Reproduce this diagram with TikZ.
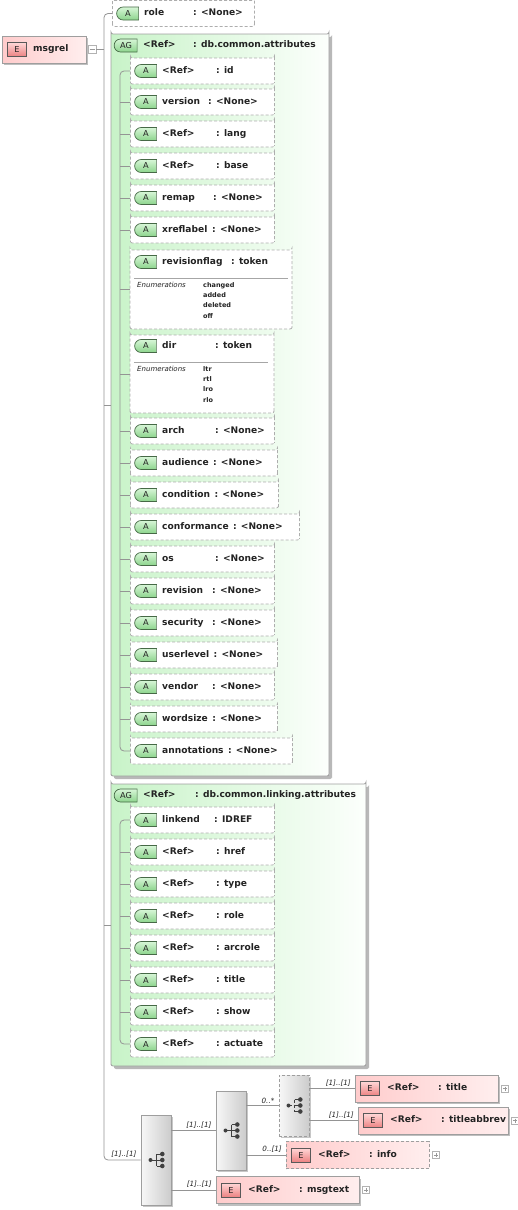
\documentclass[tikz,border=0pt]{standalone}
\usepackage{fontspec}
\setmainfont{DejaVu Sans}
\usetikzlibrary{calc,shapes.misc,shadows}

\definecolor{aggreen}{RGB}{200,243,200}
\definecolor{agwhite}{RGB}{252,255,252}
\definecolor{elpink}{RGB}{255,204,204}
\definecolor{elwhite}{RGB}{255,238,238}
\definecolor{bdgreen}{RGB}{140,212,140}
\definecolor{bdlight}{RGB}{215,246,215}
\definecolor{bdedge}{RGB}{70,105,70}
\definecolor{bdred}{RGB}{236,130,130}
\definecolor{bdrose}{RGB}{255,215,215}
\definecolor{txt}{RGB}{35,35,35}

\tikzset{
  conn/.style={draw=black!42, line width=0.8pt},
  sepline/.style={draw=black!35, line width=0.6pt},
  attrtext/.style={anchor=west, inner sep=0pt, text height=6.8pt, text depth=1.9pt, text=txt, font=\bfseries\fontsize{9.1}{10}\selectfont},
  attrbox/.style={chamfered rectangle, chamfered rectangle corners={north west,south west}, chamfered rectangle xsep=7pt, chamfered rectangle ysep=7pt, rounded corners=2pt, draw=black!32, dash pattern=on 3pt off 2pt, line width=0.8pt, fill=white, minimum height=26pt, inner sep=0pt, anchor=west},
  agbox/.style={chamfered rectangle, chamfered rectangle corners={north west,south west}, chamfered rectangle xsep=10pt, chamfered rectangle ysep=10pt, rounded corners=2pt, draw=black!38, line width=0.8pt, left color=aggreen, right color=agwhite, inner sep=0pt, drop shadow={shadow xshift=3pt, shadow yshift=-3pt, fill=black!28, opacity=1}},
  abadge/.style={rounded rectangle, rounded rectangle right arc=none, draw=bdedge, line width=0.7pt, top color=bdlight, bottom color=bdgreen, minimum width=22pt, minimum height=13pt, inner sep=0pt, text=txt, font=\fontsize{8.2}{9}\selectfont},
  ebadge/.style={rectangle, draw=black!65, line width=0.7pt, top color=bdrose, bottom color=bdred, minimum width=19pt, minimum height=14pt, inner sep=0pt, text=txt, font=\fontsize{8.2}{9}\selectfont},
  elembox/.style={rectangle, draw=black!38, line width=0.8pt, left color=elpink, right color=elwhite, minimum height=27pt, inner sep=0pt, anchor=west, drop shadow={shadow xshift=2pt, shadow yshift=-2pt, fill=black!25, opacity=1}},
  elemdash/.style={rectangle, draw=black!38, line width=0.8pt, dash pattern=on 3pt off 2pt, left color=elpink, right color=elwhite, minimum height=27pt, inner sep=0pt, anchor=west},
  plusbox/.style={rectangle, draw=black!30, fill=white, minimum size=7pt, inner sep=0pt, path picture={\draw[black!40, line width=0.5pt] ([xshift=1.5pt]path picture bounding box.west) -- ([xshift=-1.5pt]path picture bounding box.east) ([yshift=-1.5pt]path picture bounding box.north) -- ([yshift=1.5pt]path picture bounding box.south);}},
  minusbox/.style={rectangle, draw=black!30, fill=white, minimum size=8pt, inner sep=0pt, path picture={\draw[black!40, line width=0.5pt] ([xshift=1.5pt]path picture bounding box.west) -- ([xshift=-1.5pt]path picture bounding box.east);}},
  seqbox/.style={rectangle, draw=black!38, line width=0.8pt, left color=black!3, right color=black!20, minimum width=30pt, inner sep=0pt, drop shadow={shadow xshift=2pt, shadow yshift=-2pt, fill=black!22, opacity=1},
    path picture={
      \begin{scope}[shift={(path picture bounding box.center)}, black!75]
        \draw[line width=0.8pt] (-5.5,0) -- (0.5,0) (0.5,-6) -- (0.5,6) (0.5,-6) -- (6.3,-6) (0.5,0) -- (6.3,0) (0.5,6) -- (6.3,6);
        \fill (-5.5,0) circle (2) (6.3,-6) circle (2.3) (6.3,0) circle (2.3) (6.3,6) circle (2.3);
      \end{scope}}},
  choicedash/.style={dash pattern=on 3pt off 2pt, drop shadow={opacity=0}},
  enumhead/.style={anchor=west, inner sep=0pt, text=txt, font=\itshape\fontsize{7}{8}\selectfont},
  enumlist/.style={anchor=north west, align=left, inner sep=0pt, text=txt, font=\bfseries\fontsize{6.5}{10.4}\selectfont},
  mult/.style={anchor=south east, inner sep=0pt, text=txt, font=\itshape\fontsize{7.2}{8}\selectfont}
}

\newcommand{\attrrow}[7]{%
  \node[attrbox, minimum width={(#4-#2)*1pt}] (#1) at (#2,#3) {};
  \node[abadge] (#1-a) at ([xshift=16pt]#1.west) {A};
  \node[attrtext] (#1-n) at ([xshift=32pt]#1.west) {#5};
  \path let \p1=(#1-n.east) in node[attrtext] (#1-v) at ([xshift={max(#6pt-\x1,4pt)}]#1-n.east) {: #7};
}

\newcommand{\elemrow}[6]{%
  \node[#5, minimum width={(#4-#2)*1pt}] (#1) at (#2,#3) {};
  \node[ebadge] (#1-b) at ([xshift=15pt]#1.west) {E};
  \node[attrtext] (#1-n) at ([xshift=32pt]#1.west) {<Ref>};
  \node[attrtext] (#1-v) at ([xshift=83pt]#1.west) {: #6};
  \node[plusbox] (#1-p) at ([xshift=6pt]#1.east) {};
}

\begin{document}
\begin{tikzpicture}[x=1pt, y=-1pt]
	\useasboundingbox (0,0) rectangle (518,1210);
	\coordinate (trunk) at (104,0);
	\coordinate (agt) at (120,0);

	\node[elembox, minimum width=84pt] (msgrel) at (2,49.5) {};
	\node[ebadge] (msgrel-b) at ([xshift=15pt]msgrel.west) {E};
	\node[attrtext] (msgrel-n) at ([xshift=31pt]msgrel.west) {msgrel};
	\node[minusbox] (msgrel-c) at (92,49.5) {};

	\attrrow{role}{112}{13.5}{254}{role}{193}{<None>}

	\node[agbox, minimum width=218pt, minimum height=742pt] (ag1) at (220,405) {};
	\node[abadge, minimum width=23pt] (ag1-a) at (126,45.5) {AG};
	\node[attrtext] (ag1-n) at (143,45.5) {<Ref>};
	\node[attrtext] (ag1-v) at (193,45.5) {: db.common.attributes};

	\attrrow{id}{130}{71}{274}{<Ref>}{216}{id}
	\attrrow{version}{130}{102}{274}{version}{208}{<None>}
	\attrrow{lang}{130}{134}{274}{<Ref>}{216}{lang}
	\attrrow{base}{130}{166}{274}{<Ref>}{216}{base}
	\attrrow{remap}{130}{198}{274}{remap}{213}{<None>}
	\attrrow{xreflabel}{130}{230}{274}{xreflabel}{212}{<None>}

	\node[attrbox, anchor=center, minimum width=162pt, minimum height=79pt] (revisionflag) at (211,289.5) {};
	\node[abadge] (revisionflag-a) at (146,262) {A};
	\node[attrtext] (revisionflag-n) at (162,262) {revisionflag};
	\node[attrtext] (revisionflag-v) at (231,262) {: token};
	\draw[sepline] (134,278) -- (288,278);
	\node[enumhead] (revisionflag-e) at (137,285) {Enumerations};
	\node[enumlist] (revisionflag-l) at (203,282) {changed\\added\\deleted\\off};

	\node[attrbox, anchor=center, minimum width=144pt, minimum height=78pt] (dir) at (202,374) {};
	\node[abadge] (dir-a) at (146,346) {A};
	\node[attrtext] (dir-n) at (162,346) {dir};
	\node[attrtext] (dir-v) at (215,346) {: token};
	\draw[sepline] (134,362) -- (268,362);
	\node[enumhead] (dir-e) at (137,369) {Enumerations};
	\node[enumlist] (dir-l) at (203,366) {ltr\\rtl\\lro\\rlo};

	\attrrow{arch}{130}{431}{274}{arch}{215}{<None>}
	\attrrow{audience}{130}{463}{277}{audience}{210}{<None>}
	\attrrow{condition}{130}{495}{278}{condition}{211}{<None>}
	\attrrow{conformance}{130}{527}{299}{conformance}{232}{<None>}
	\attrrow{os}{130}{559}{274}{os}{215}{<None>}
	\attrrow{revision}{130}{591}{274}{revision}{212}{<None>}
	\attrrow{security}{130}{623}{274}{security}{212}{<None>}
	\attrrow{userlevel}{130}{655}{277}{userlevel}{211}{<None>}
	\attrrow{vendor}{130}{687}{274}{vendor}{212}{<None>}
	\attrrow{wordsize}{130}{719}{277}{wordsize}{212}{<None>}
	\attrrow{annotations}{130}{751}{292}{annotations}{227}{<None>}

	\node[agbox, minimum width=255pt, minimum height=282pt] (ag2) at (238.5,925) {};
	\node[abadge, minimum width=23pt] (ag2-a) at (126,795.5) {AG};
	\node[attrtext] (ag2-n) at (143,795.5) {<Ref>};
	\node[attrtext] (ag2-v) at (195,795.5) {: db.common.linking.attributes};

	\attrrow{linkend}{130}{820}{274}{linkend}{214}{IDREF}
	\attrrow{href}{130}{852}{274}{<Ref>}{216}{href}
	\attrrow{type}{130}{884}{274}{<Ref>}{216}{type}
	\attrrow{lrole}{130}{916}{274}{<Ref>}{216}{role}
	\attrrow{arcrole}{130}{948}{274}{<Ref>}{216}{arcrole}
	\attrrow{ltitle}{130}{980}{274}{<Ref>}{216}{title}
	\attrrow{show}{130}{1012}{274}{<Ref>}{216}{show}
	\attrrow{actuate}{130}{1044}{274}{<Ref>}{216}{actuate}

	\node[seqbox, minimum height=90pt] (seq1) at (156,1160) {};
	\node[seqbox, minimum height=79pt] (seq2) at (231,1130.5) {};
	\node[seqbox, choicedash, minimum height=61pt] (choice) at (294,1105.5) {};

	\elemrow{title}{355}{1088.5}{498}{elembox}{title}
	\elemrow{titleabbrev}{358}{1120.5}{508}{elembox}{titleabbrev}
	\elemrow{info}{286}{1155}{429}{elemdash}{info}
	\elemrow{msgtext}{216}{1190}{359}{elembox}{msgtext}

	\draw[conn] (msgrel-c.east) -- (msgrel-c.east -| trunk);
	\draw[conn, rounded corners=4pt] (role.west) -| (trunk |- seq1.west) -- (seq1.west);
	\draw[conn] (trunk |- ag1.west) -- (ag1.west);
	\draw[conn] (trunk |- ag2.west) -- (ag2.west);

	\draw[conn, rounded corners=4pt] (id.west) -| (agt |- annotations.west) -- (annotations.west);
	\foreach \a in {version,lang,base,remap,xreflabel,revisionflag,dir,arch,audience,condition,conformance,os,revision,security,userlevel,vendor,wordsize}
		\draw[conn] (agt |- \a.west) -- (\a.west);

	\draw[conn, rounded corners=4pt] (linkend.west) -| (agt |- actuate.west) -- (actuate.west);
	\foreach \a in {href,type,lrole,arcrole,ltitle,show}
		\draw[conn] (agt |- \a.west) -- (\a.west);

	\draw[conn] (seq1.east |- seq2.west) -- (seq2.west);
	\draw[conn] (seq1.east |- msgtext.west) -- (msgtext.west);
	\draw[conn] (seq2.east |- choice.west) -- (choice.west);
	\draw[conn] (seq2.east |- info.west) -- (info.west);
	\draw[conn] (choice.east |- title.west) -- (title.west);
	\draw[conn] (choice.east |- titleabbrev.west) -- (titleabbrev.west);

	\node[mult] (m-seq1) at ([xshift=-4pt,yshift=2pt]seq1.west) {[1]..[1]};
	\node[mult] (m-seq2) at ([xshift=-4pt,yshift=2pt]seq2.west) {[1]..[1]};
	\node[mult] (m-msgtext) at ([xshift=-4pt,yshift=2pt]msgtext.west) {[1]..[1]};
	\node[mult] (m-choice) at ([xshift=-4pt,yshift=2pt]choice.west) {0..*};
	\node[mult] (m-info) at ([xshift=-4pt,yshift=2pt]info.west) {0..[1]};
	\node[mult] (m-title) at ([xshift=-4pt,yshift=2pt]title.west) {[1]..[1]};
	\node[mult] (m-titleabbrev) at ([xshift=-4pt,yshift=2pt]titleabbrev.west) {[1]..[1]};
\end{tikzpicture}
\end{document}
